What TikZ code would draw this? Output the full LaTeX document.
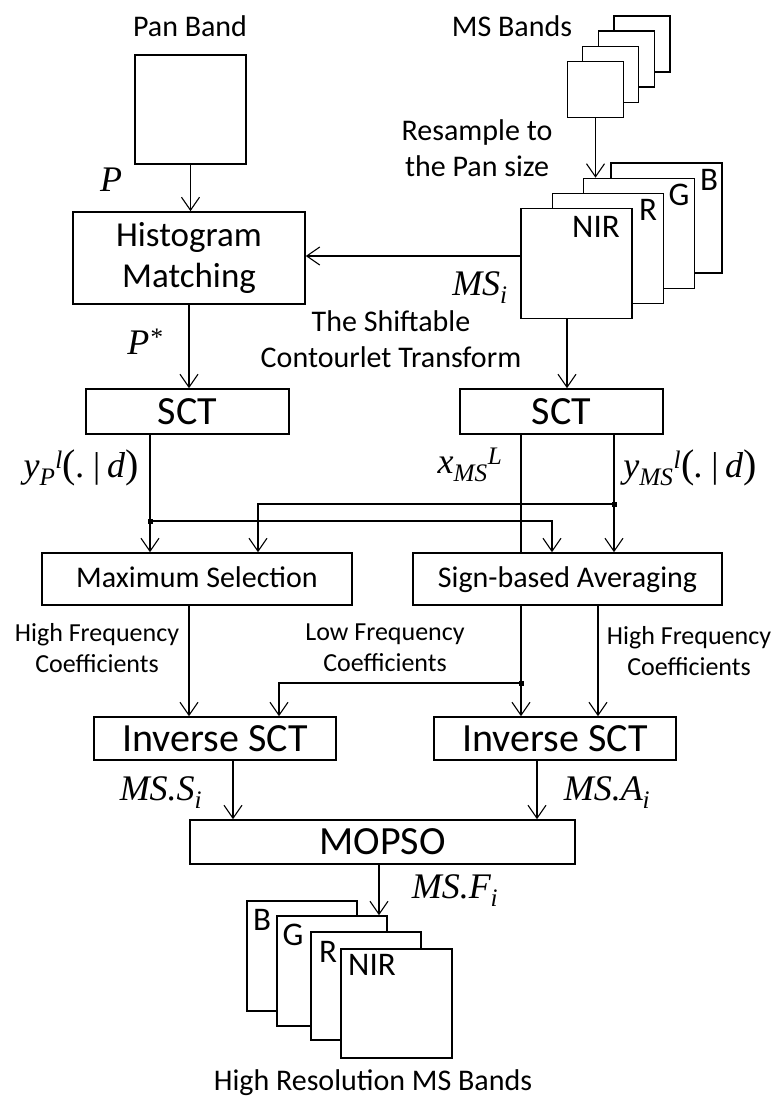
\documentclass[tikz,border=0pt]{standalone}
\usepackage{fontspec}
\setmainfont{Carlito}
\newfontfamily\tms{Liberation Serif}
\usetikzlibrary{arrows.meta}
\newcommand\mlab[1]{{\tms\itshape\fontsize{36}{40}\selectfont #1}}
\newcommand\bigpar[1]{{\fontsize{40}{44}\selectfont\upshape #1}}
\begin{document}
\begin{tikzpicture}[x=1pt,y=-1pt,
  box/.style={draw,line width=1.6pt,fill=white,inner sep=0pt,anchor=center},
  arr/.style={line width=1.1pt,-{Straight Barb[length=13pt,width=18pt,line width=1.1pt]}},
  ln/.style={line width=1.1pt},
  jn/.style={fill,minimum size=5pt,inner sep=0pt},
  lab/.style={inner sep=0pt,font=\fontsize{30}{36}\selectfont,align=center},
  flab/.style={inner sep=0pt,font=\fontsize{26}{31}\selectfont,align=center},
  blab/.style={inner sep=0pt,font=\fontsize{33}{36}\selectfont},
  big/.style={font=\fontsize{40}{44}\selectfont},
  mid/.style={font=\fontsize{30}{34}\selectfont,text height=20pt,text depth=4pt}]
\useasboundingbox[fill=white] (0,0) rectangle (774,1097);

% ---------- top-left: Pan band
\node[lab] (panlab) at (190,26) {Pan Band};
\node[box,minimum width=111pt,minimum height=109pt] (pan) at (190.5,109.5) {};
\node[inner sep=0pt] (plab) at (111,180) {\mlab{P}};

% ---------- top-right: MS bands (small stack)
\node[box,minimum width=56pt,minimum height=56pt] (ms4) at (642,44) {};
\node[box,minimum width=56pt,minimum height=56pt] (ms3) at (626.5,59) {};
\node[box,minimum width=56pt,minimum height=56pt] (ms2) at (610.5,74.5) {};
\node[box,minimum width=56pt,minimum height=56pt] (ms1) at (595.5,89.5) {};
\node[lab] (mslab) at (512,26) {MS Bands};
\node[lab] (reslab) at (477,148) {Resample to\\the Pan size};

% ---------- big stack
\node[box,minimum width=111pt,minimum height=110pt] (bB) at (666.5,218) {};
\node[box,minimum width=111pt,minimum height=110pt] (bG) at (639,233.5) {};
\node[box,minimum width=111pt,minimum height=110pt] (bR) at (608,248.5) {};
\node[box,minimum width=111pt,minimum height=110pt] (bN) at (576.5,263.5) {};
\node[blab] (tB) at (709,180) {B};
\node[blab] (tG) at (679,195) {G};
\node[blab] (tR) at (648,210) {R};
\node[blab] (tN) at (596,227) {NIR};
\node[inner sep=0pt] (msilab) at (480,288) {\mlab{MS\textsubscript{i}}};

% ---------- histogram matching
\node[box,minimum width=232pt,minimum height=92pt,align=center,
      font=\fontsize{35}{41}\selectfont] (hist) at (189,258) {Histogram\\Matching};
\node[inner sep=0pt] (pslab) at (145,342) {\mlab{P\textsuperscript{*}}};
\node[lab] (sctlab) at (391,339) {The Shiftable\\Contourlet Transform};

% ---------- SCT boxes
\node[box,big,minimum width=203pt,minimum height=45pt] (sctL) at (187.5,411.5) {SCT};
\node[box,big,minimum width=203pt,minimum height=45pt] (sctR) at (561.5,411.5) {SCT};
\node[inner sep=0pt] (yplab) at (81,468) {\mlab{y\textsubscript{P}\textsuperscript{l}\bigpar{(}.\,|\,d\bigpar{)}}};
\node[inner sep=0pt] (xmslab) at (470,465) {\mlab{x\textsubscript{MS}\textsuperscript{L}}};
\node[inner sep=0pt] (ymslab) at (690,468) {\mlab{y\textsubscript{MS}\textsuperscript{l}\bigpar{(}.\,|\,d\bigpar{)}}};

% ---------- selection / averaging
\node[box,mid,minimum width=310pt,minimum height=52pt] (maxs) at (197,579) {Maximum Selection};
\node[box,mid,minimum width=309pt,minimum height=52pt] (sign) at (567.5,579) {Sign-based Averaging};

\node[flab] (hf1) at (97,648) {High Frequency\\Coefficients};
\node[flab] (lf) at (385,648) {Low Frequency\\Coefficients};
\node[flab] (hf2) at (689,651) {High Frequency\\Coefficients};

% ---------- inverse SCT
\node[box,big,minimum width=242pt,minimum height=43pt] (invL) at (215,738.5) {Inverse SCT};
\node[box,big,minimum width=242pt,minimum height=43pt] (invR) at (555,738.5) {Inverse SCT};
\node[inner sep=0pt] (msslab) at (161,793) {\mlab{MS.S\textsubscript{i}}};
\node[inner sep=0pt] (msalab) at (607,793) {\mlab{MS.A\textsubscript{i}}};

% ---------- MOPSO
\node[box,big,minimum width=385pt,minimum height=44pt] (mopso) at (382.5,842) {MOPSO};
\node[inner sep=0pt] (msflab) at (455,891) {\mlab{MS.F\textsubscript{i}}};

% ---------- output stack
\node[box,minimum width=110pt,minimum height=110pt] (hB) at (302,956) {};
\node[box,minimum width=110pt,minimum height=110pt] (hG) at (332,971) {};
\node[box,minimum width=110pt,minimum height=108pt] (hR) at (366,986) {};
\node[box,minimum width=111pt,minimum height=109pt] (hN) at (396.5,1003.5) {};
\node[blab] (lB) at (262,920) {B};
\node[blab] (lG) at (293,935) {G};
\node[blab] (lR) at (328,952) {R};
\node[blab] (lN) at (372,965) {NIR};
\node[lab] (hrlab) at (373,1083) {High Resolution MS Bands};

% ---------- junction coordinates
\coordinate (jL) at (150,521);
\coordinate (jR) at (614,504);
\coordinate (jB) at (521,683);

% ---------- connectors
\draw[arr] (pan.south) -- (pan.south |- hist.north);
\draw[arr] (ms1.south) -- (ms1.south |- bG.north);
\draw[arr] (bN.west |- 0,256) -- (hist.east |- 0,256);
\draw[arr] (hist.south) -- (hist.south |- sctL.north);
\draw[arr] ([xshift=5.5pt]sctR.north |- bN.south) -- ([xshift=5.5pt]sctR.north);

\draw[arr] (jL |- sctL.south) -- (jL |- maxs.north);
\draw[arr] (jL) -| ([xshift=-15.5pt]sign.north);
\draw[ln] (jB |- sctR.south) -- (jB |- sign.north);
\draw[arr] (jR |- sctR.south) -- (jR |- sign.north);
\draw[arr] (jR) -| ([xshift=61pt]maxs.north);
\node[jn] (jLn) at (jL) {};
\node[jn] (jRn) at (jR) {};

\draw[arr] ([xshift=-8pt]maxs.south) -- ([xshift=-8pt]maxs.south |- invL.north);
\draw[arr] (jB |- sign.south) -- (jB |- invR.north);
\draw[arr] (jB) -| ([xshift=64pt]invL.north);
\draw[arr] ([xshift=30.5pt]sign.south) -- ([xshift=30.5pt]sign.south |- invR.north);
\node[jn] (jBn) at (jB) {};

\draw[arr] ([xshift=18pt]invL.south) -- ([xshift=18pt]invL.south |- mopso.north);
\draw[arr] ([xshift=-18pt]invR.south) -- ([xshift=-18pt]invR.south |- mopso.north);
\draw[arr] ([xshift=-3.5pt]mopso.south) -- ([xshift=-3.5pt]mopso.south |- hG.north);
\end{tikzpicture}
\end{document}
